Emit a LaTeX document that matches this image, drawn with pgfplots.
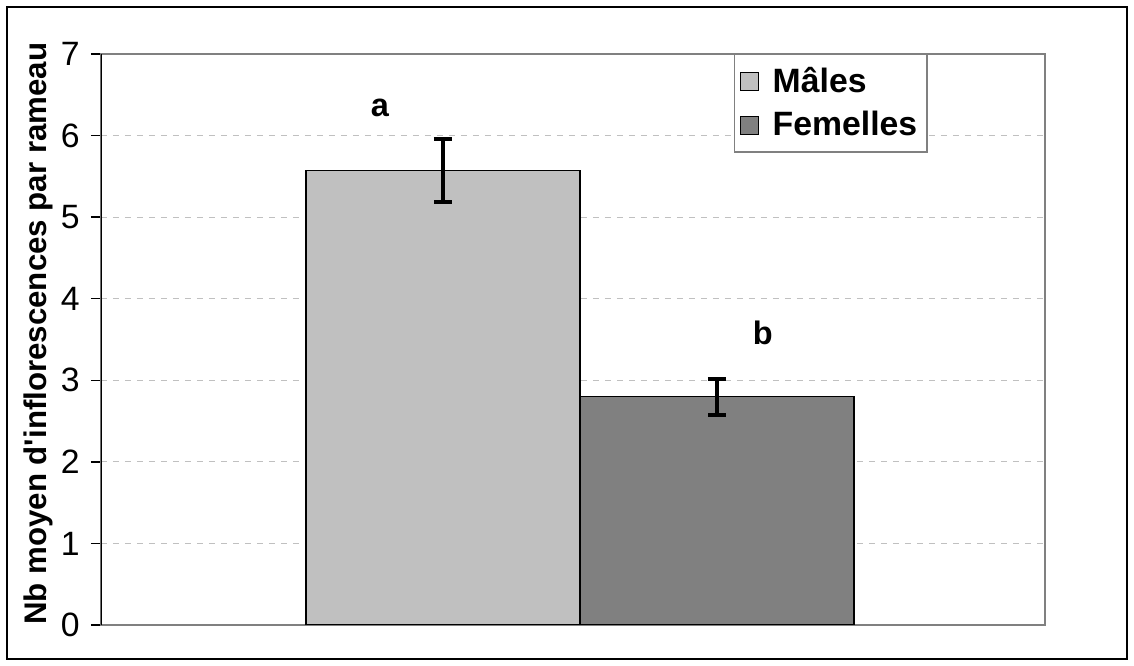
\documentclass[border=0pt]{standalone}
\usepackage{pgfplots}
\pgfplotsset{compat=1.18}
\usepackage{fontspec}
\setmainfont{Liberation Sans}
\definecolor{males}{HTML}{C0C0C0}
\definecolor{femelles}{HTML}{808080}
\definecolor{gridgray}{HTML}{C0C0C0}
\begin{document}
\begin{tikzpicture}[x=1pt,y=1pt]
\begin{axis}[
    at={(0,0)}, anchor=south west,
    scale only axis, width=377.6pt, height=228.4pt,
    ybar=0pt, bar width=0.572,
    xmin=-1, xmax=0.971, ymin=0, ymax=7,
    xtick=\empty, ytick={0,...,7},
    ytick pos=left, tick align=outside,
    major tick length=4pt,
    /pgf/number format/assume math mode=true,
    yticklabel style={font=\fontsize{13.5}{15}\selectfont, xshift=-1pt},
    ymajorgrids,
    grid style={gridgray, dash pattern=on 2.4pt off 2.4pt, line width=0.5pt},
    axis line style={femelles, line width=0.8pt},
    y tick style={black, line width=0.6pt},
    ylabel={Nb moyen d\textquotesingle inflorescences par rameau},
    ylabel style={at={(axis description cs:-0.0667,0.51)}, anchor=center,
      font=\bfseries\fontsize{12.5}{14}\selectfont},
    legend style={at={(axis description cs:0.876,1.0)}, anchor=north east,
      draw=femelles, line width=0.6pt, font=\bfseries\fontsize{13.5}{15}\selectfont,
      row sep=2pt, inner xsep=2pt, inner ysep=3pt},
    legend cell align=left,
    legend image code/.code={\draw[#1, line width=0.5pt] (0pt,-3.6pt) rectangle (7.4pt,3.6pt);
      \path[draw=none, fill=none] (0pt,0pt) -- (11pt,0pt);},
    error bars/y dir=both, error bars/y explicit,
    error bars/error bar style={black, line width=1.3pt},
    error bars/error mark options={rotate=90, black, mark size=3.6pt, line width=1.6pt},
]
\addplot[fill=males, draw=black, line width=0.5pt] coordinates {(0,5.57) +- (0,0.39)};
\addplot[fill=femelles, draw=black, line width=0.5pt] coordinates {(0,2.80) +- (0,0.22)};
\legend{Mâles,Femelles}
\draw[black, line width=0.8pt] (rel axis cs:0,0) -- (rel axis cs:0,1);
\node[font=\bfseries\fontsize{13}{15}\selectfont] at (axis cs:-0.4175,6.34) {a};
\node[font=\bfseries\fontsize{13}{15}\selectfont] at (axis cs:0.382,3.58) {b};
\end{axis}
\pgfresetboundingbox
\path[use as bounding box] (-40.4pt,-16.4pt) rectangle (413.2pt,250pt);
\draw[black, line width=0.6pt] (-37.6pt,-13.6pt) rectangle (410.4pt,247.2pt);
\end{tikzpicture}
\end{document}
